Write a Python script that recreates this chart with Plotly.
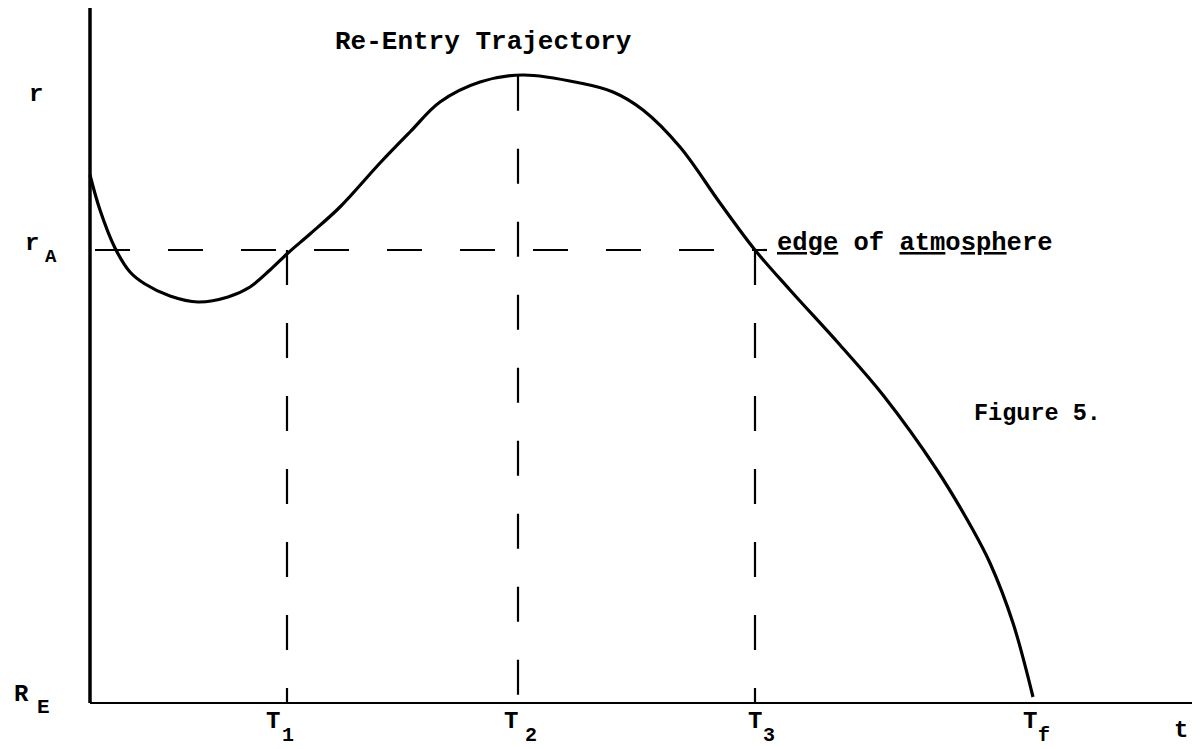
import plotly.graph_objects as go

# ---- data (t in arbitrary time units, r in arbitrary radius units; R_E = 0) ----
curve_t = [0.00, 0.10, 0.25, 0.40, 0.55, 0.80, 1.08, 1.38, 1.60, 1.80, 1.98, 2.20, 2.50,
           2.90, 3.20, 3.50, 3.90, 4.33, 4.90, 5.23, 5.53, 5.90, 6.30, 6.65, 7.00, 7.50,
           7.93, 8.47, 8.83, 9.00, 9.23, 9.43]
curve_r = [5.28, 4.93, 4.55, 4.31, 4.19, 4.07, 4.01, 4.06, 4.16, 4.33, 4.50, 4.69, 4.96,
           5.40, 5.71, 6.01, 6.21, 6.28, 6.20, 6.11, 5.93, 5.56, 5.00, 4.53, 4.13, 3.58,
           3.08, 2.33, 1.73, 1.40, 0.80, 0.06]

T1, T2, T3, Tf = 1.97, 4.28, 6.65, 9.43
rA = 4.53
r_top_label = 6.09
t_axis_end = 11.05
r_axis_top = 6.95

tick_labels = ["T", "T", "T", "T"]
tick_subs = ["1", "2", "3", "f"]
tick_pos = [T1, T2, T3, Tf]

def r_at(t):
    for i in range(len(curve_t) - 1):
        if curve_t[i] <= t <= curve_t[i + 1]:
            f = (t - curve_t[i]) / (curve_t[i + 1] - curve_t[i])
            return curve_r[i] + f * (curve_r[i + 1] - curve_r[i])
    return curve_r[-1]

FONT = "Liberation Mono"
fig = go.Figure()

# axes
fig.add_trace(go.Scatter(x=[0, 0], y=[0, r_axis_top], mode="lines",
                         line=dict(color="black", width=3.5), hoverinfo="skip"))
fig.add_trace(go.Scatter(x=[0, t_axis_end], y=[0, 0], mode="lines",
                         line=dict(color="black", width=2.2), hoverinfo="skip"))

# dashed guides
dash = "35px,38px"
fig.add_trace(go.Scatter(x=[0.05, T3 + 0.12], y=[rA, rA], mode="lines",
                         line=dict(color="black", width=2.2, dash=dash), hoverinfo="skip"))
for T in (T1, T2, T3):
    top = rA if T != T2 else r_at(T2)
    fig.add_trace(go.Scatter(x=[T, T], y=[top, 0], mode="lines",
                             line=dict(color="black", width=2.2, dash=dash), hoverinfo="skip"))

# trajectory
fig.add_trace(go.Scatter(x=curve_t, y=curve_r, mode="lines",
                         line=dict(color="black", width=3.2, shape="spline", smoothing=1.0),
                         hoverinfo="skip"))

ann = []
def txt(x, y, s, size=24, xanchor="center"):
    ann.append(dict(x=x, y=y, text=s, showarrow=False, xanchor=xanchor, yanchor="middle",
                    font=dict(family=FONT, size=size, color="black")))

txt(3.93, 6.61, "<b>Re-Entry Trajectory</b>", size=26)
txt(6.85, 4.60, "<b><u>edge</u> of <u>atm</u>o<u>sph</u>ere</b>", size=25.5, xanchor="left")
txt(8.82, 2.90, "<b>Figure 5.</b>", size=23.5, xanchor="left")

# y labels
txt(-0.54, r_top_label, "<b>r</b>", size=24)
txt(-0.58, rA + 0.07, "<b>r</b>", size=24)
txt(-0.39, rA - 0.07, "<b>A</b>", size=19)
txt(-0.69, 0.09, "<b>R</b>", size=24)
txt(-0.47, -0.04, "<b>E</b>", size=21)

# x labels
lab_off = [-0.14, -0.07, 0.00, -0.03]
sub_off = [0.01, 0.13, 0.14, 0.11]
for pos, lab, sub, lo, so in zip(tick_pos, tick_labels, tick_subs, lab_off, sub_off):
    txt(pos + lo, -0.18, "<b>" + lab + "</b>", size=24)
    txt(pos + so, -0.32, "<b>" + sub + "</b>", size=20)
txt(10.91, -0.27, "<b>t</b>", size=24)

# the HTML page body has an 8px margin; ranges compensate so the view matches
fig.update_layout(
    width=1200, height=749,
    margin=dict(l=0, r=0, t=0, b=0),
    plot_bgcolor="white", paper_bgcolor="white",
    showlegend=False,
    annotations=ann,
    xaxis=dict(range=[-0.82, 11.18], visible=False, fixedrange=True),
    yaxis=dict(range=[-0.54, 6.95], visible=False, fixedrange=True),
)

fig.write_html("out.html")
